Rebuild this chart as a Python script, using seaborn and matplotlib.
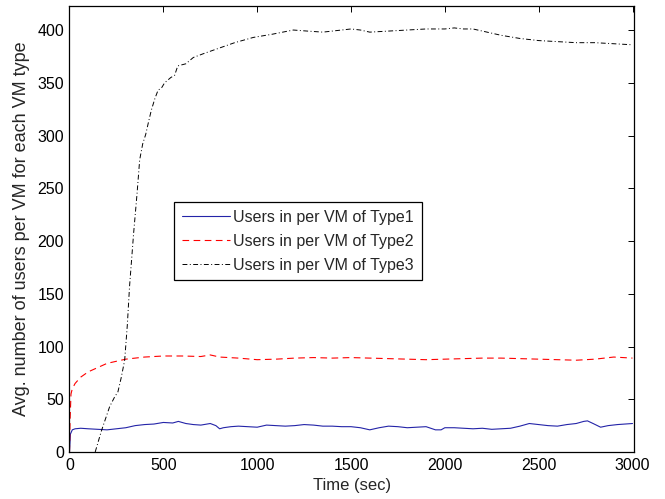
import matplotlib
matplotlib.use("Agg")
import matplotlib.pyplot as plt
import seaborn as sns
import pandas as pd

# ---- data ----
t1 = [0, 5, 15, 30, 60, 100, 150, 200, 250, 300, 350, 400, 450, 500, 550, 580, 620, 660, 700, 750,
      780, 800, 820, 860, 900, 950, 1000, 1050, 1100, 1150, 1200, 1250, 1300, 1350, 1400, 1450, 1500,
      1550, 1600, 1650, 1700, 1750, 1800, 1850, 1900, 1950, 1980, 2000, 2050, 2100, 2150, 2200, 2250,
      2300, 2350, 2400, 2450, 2500, 2550, 2600, 2650, 2700, 2740, 2760, 2790, 2830, 2870, 2920, 2960, 3000]
v1 = [0, 17, 21, 22, 22.5, 22, 21.5, 21, 22, 23, 25, 26, 26.5, 28, 27.5, 29, 27, 26, 25.5, 27,
      25, 22, 23, 24, 24.5, 24, 23.5, 25.5, 25, 24.5, 25, 26, 25.5, 24.5, 24.5, 24, 24,
      23, 21, 23, 24.5, 24, 23, 23.5, 24, 21, 21, 23, 23, 22.5, 22, 22.5, 21.5,
      22, 22.5, 24.5, 27, 26, 25, 24.5, 26, 27, 29, 29.5, 27, 23.5, 25, 26, 26.5, 27]

t2 = [0, 3, 8, 15, 30, 60, 100, 150, 200, 250, 300, 400, 500, 600, 700, 750, 800, 900, 1000, 1100,
      1200, 1300, 1400, 1500, 1600, 1700, 1800, 1900, 2000, 2100, 2200, 2300, 2400, 2500, 2600, 2700,
      2800, 2900, 3000]
v2 = [0, 30, 55, 60, 65, 71, 76, 80, 84, 86, 88, 90, 91, 91, 90.5, 92, 90, 89, 87.5, 88,
      89, 89.5, 89, 89.5, 89, 88.5, 88, 87.5, 88, 88.5, 89, 89, 88.5, 88, 87.5, 87,
      88, 90, 89]

t3 = [137, 170, 214, 240, 258, 275, 294, 308, 320, 342, 360, 374, 390, 406, 420, 436, 455, 472, 490,
      507, 540, 560, 577, 620, 660, 720, 800, 880, 980, 1080, 1193, 1267, 1350, 1450, 1500, 1550, 1600,
      1700, 1800, 1900, 2000, 2050, 2100, 2150, 2200, 2250, 2300, 2400, 2500, 2600, 2700, 2800, 2900, 3000]
v3 = [0, 20, 43, 52, 57, 70, 87, 120, 157, 208, 245, 277, 292, 301, 312, 324, 335, 343, 345,
      350, 355, 357, 366, 368, 374, 378, 383, 388, 393, 396, 400, 399, 398, 400, 401, 400, 398,
      399, 400, 401, 401, 402, 401, 401, 399, 397, 395, 392, 390, 389, 388, 388, 387, 386]

labels = ["Users in per VM of Type1", "Users in per VM of Type2", "Users in per VM of Type3"]
xticks = [0, 500, 1000, 1500, 2000, 2500, 3000]
yticks = [0, 50, 100, 150, 200, 250, 300, 350, 400]

sns.set_theme(style="white")
plt.rcParams["font.family"] = ["Liberation Sans", "DejaVu Sans"]

fig = plt.figure(figsize=(6.65, 4.99), dpi=100)
ax = fig.add_axes([0.1045, 0.0942, 0.8489, 0.8932])

d1 = pd.DataFrame({"t": t1, "v": v1})
d2 = pd.DataFrame({"t": t2, "v": v2})
d3 = pd.DataFrame({"t": t3, "v": v3})

sns.lineplot(data=d1, x="t", y="v", ax=ax, color="#2424a8", lw=0.8, label=labels[0])
sns.lineplot(data=d2, x="t", y="v", ax=ax, color="#ff0000", lw=0.8, label=labels[1])
sns.lineplot(data=d3, x="t", y="v", ax=ax, color="black", lw=0.7, label=labels[2])
lines = ax.get_lines()
lines[1].set_dashes((6, 4))
lines[2].set_dashes((5, 2.5, 1, 2.5))

ax.set_xlim(0, 3008)
ax.set_ylim(0, 422.5)
ax.set_xticks(xticks)
ax.set_yticks(yticks)
ax.tick_params(direction="in", length=4, width=0.7, top=True, right=True,
               labelsize=11.5, colors="black", pad=4)
for s in ax.spines.values():
    s.set_visible(True)
    s.set_color("black")
    s.set_linewidth(0.9)

ax.set_xlabel("Time (sec)", fontsize=12, labelpad=4)
ax.set_ylabel("Avg. number of users per VM for each VM type", fontsize=13, labelpad=5)

leg = ax.legend(loc="upper left", bbox_to_anchor=(0.185, 0.561), borderaxespad=0,
                fancybox=False, framealpha=1, edgecolor="black", fontsize=11.5,
                handlelength=3.0, handletextpad=0.2, borderpad=0.5, labelspacing=0.55)
leg.get_frame().set_linewidth(0.9)
leg.get_lines()[1].set_dashes((6, 4))
leg.get_lines()[2].set_dashes((5, 2.5, 1, 2.5))

fig.savefig("out.png", dpi=100)
